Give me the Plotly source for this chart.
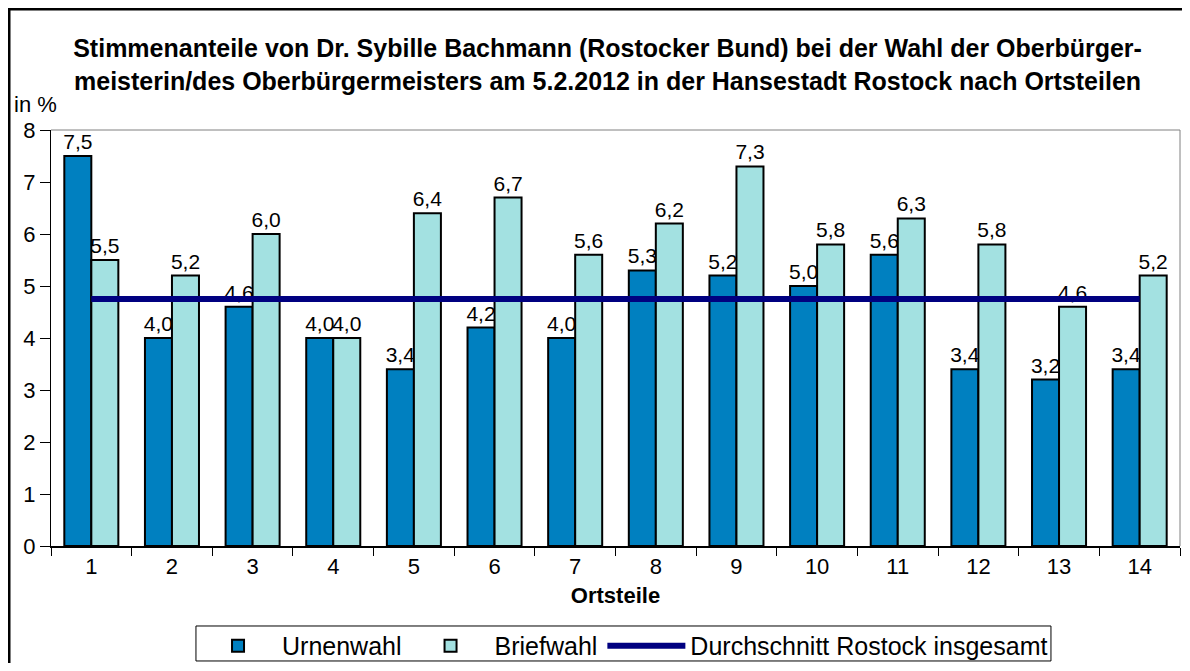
import plotly.graph_objects as go

ortsteile = [str(i) for i in range(1, 15)]
urnenwahl = [7.5, 4.0, 4.6, 4.0, 3.4, 4.2, 4.0, 5.3, 5.2, 5.0, 5.6, 3.4, 3.2, 3.4]
briefwahl = [5.5, 5.2, 6.0, 4.0, 6.4, 6.7, 5.6, 6.2, 7.3, 5.8, 6.3, 5.8, 4.6, 5.2]
durchschnitt = [4.75] * 14
y_ticks = [0, 1, 2, 3, 4, 5, 6, 7, 8]

FONT = "Liberation Sans, Arial, sans-serif"
W, H = 1174, 655

def fmt(v):
    return f"{v:.1f}".replace(".", ",")

fig = go.Figure()
fig.add_trace(go.Bar(
    x=ortsteile, y=urnenwahl, name="Urnenwahl",
    marker=dict(color="#0080C0", line=dict(color="black", width=2)),
    text=[fmt(v) for v in urnenwahl], textposition="outside", constraintext="none",
    textfont=dict(size=21, color="black", family=FONT), cliponaxis=False,
))
fig.add_trace(go.Bar(
    x=ortsteile, y=briefwahl, name="Briefwahl",
    marker=dict(color="#A3E1E1", line=dict(color="black", width=2)),
    text=[fmt(v) for v in briefwahl], textposition="outside", constraintext="none",
    textfont=dict(size=21, color="black", family=FONT), cliponaxis=False,
))
fig.add_trace(go.Scatter(
    x=ortsteile, y=durchschnitt, name="Durchschnitt Rostock insgesamt",
    mode="lines", line=dict(color="#000080", width=6),
))

fig.update_layout(
    width=W, height=H,
    margin=dict(l=43, r=2, t=122, b=117, autoexpand=False),
    paper_bgcolor="white", plot_bgcolor="white",
    font=dict(family=FONT, size=21, color="black"),
    barmode="group", bargap=0.33, bargroupgap=0,
    title=dict(
        text="<b>Stimmenanteile von Dr. Sybille Bachmann (Rostocker Bund) bei der Wahl der Oberbürger-<br>meisterin/des Oberbürgermeisters am 5.2.2012 in der Hansestadt Rostock nach Ortsteilen</b>",
        x=0.5107, xanchor="center", y=0.925, yanchor="top",
        font=dict(size=25, family=FONT, color="black"),
    ),
    showlegend=True,
    legend=dict(
        orientation="h", xref="container", yref="container",
        x=0.5243, xanchor="center", y=0.0611, yanchor="top",
        borderwidth=0, bgcolor="rgba(0,0,0,0)", font=dict(size=25, family=FONT),
        traceorder="normal", itemwidth=78, tracegroupgap=0,
    ),
    xaxis=dict(
        type="category", showline=True, linecolor="black", linewidth=2,
        ticks="outside", tickson="boundaries", ticklen=8, tickcolor="black",
        mirror=False, showgrid=False, automargin=False,
        title=dict(text="<b>Ortsteile</b>", font=dict(size=22, family=FONT), standoff=9),
        tickfont=dict(size=22),
    ),
    yaxis=dict(
        range=[0, 8], tickvals=y_ticks, showline=True, linecolor="black", linewidth=1,
        ticks="outside", ticklen=10, tickcolor="black", showgrid=False,
        zeroline=False, tickfont=dict(size=22), automargin=False,
    ),
    shapes=[
        dict(type="line", xref="paper", yref="paper", x0=0, x1=1, y0=1, y1=1,
             line=dict(color="#808080", width=1)),
        dict(type="line", xref="paper", yref="paper", x0=1, x1=1, y0=0, y1=1,
             line=dict(color="#808080", width=1)),
        dict(type="rect", xref="paper", yref="paper",
             x0=-0.0372, x1=1.1, y0=-0.5, y1=1.2909,
             line=dict(color="black", width=3)),
        dict(type="rect", xref="paper", yref="paper",
             x0=0.1284, x1=0.8857, y0=-0.2764, y1=-0.1923,
             line=dict(color="black", width=1)),
    ],
    annotations=[
        dict(text="in %", xref="paper", yref="paper", x=-0.0345, y=1.026,
             xanchor="left", yanchor="bottom", showarrow=False,
             font=dict(size=22, family=FONT)),
    ],
)

fig.write_html("out.html")
